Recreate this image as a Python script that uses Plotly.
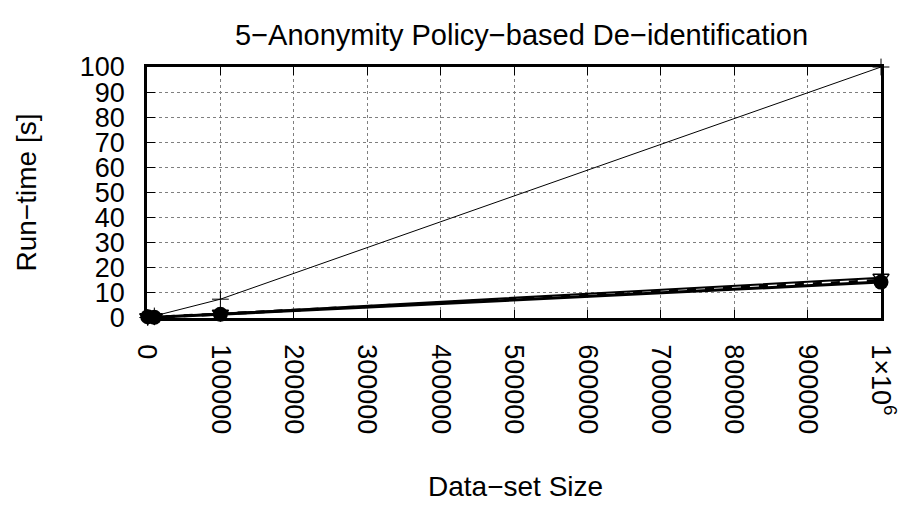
import plotly.graph_objects as go

# Data-set sizes (records) and measured run-times in seconds
sizes = [1000, 10000, 100000, 1000000]
runtime_plus = [0.2, 0.8, 7.5, 100.0]
runtime_circle = [0.5, 0.3, 1.5, 14.3]
runtime_triangle = [0.3, 0.3, 1.7, 16.0]
runtime_dash = [0.3, 0.3, 1.6, 15.0]

x_tickvals = [0, 100000, 200000, 300000, 400000, 500000, 600000, 700000, 800000, 900000, 1000000]
x_ticktext = ["0", "100000", "200000", "300000", "400000", "500000", "600000",
              "700000", "800000", "900000", "1×10<sup>6</sup>"]
y_tickvals = [0, 10, 20, 30, 40, 50, 60, 70, 80, 90, 100]

FONT = "Liberation Sans, Arial, Helvetica, sans-serif"
FS = 27
FS_TITLE = 29
FS_AXIS = 28

fig = go.Figure()

fig.add_trace(go.Scatter(
    x=sizes, y=runtime_dash, mode="lines",
    line=dict(color="black", width=3, dash="dash"),
    cliponaxis=False, showlegend=False))
fig.add_trace(go.Scatter(
    x=sizes, y=runtime_triangle, mode="lines+markers",
    line=dict(color="black", width=2),
    marker=dict(symbol="triangle-down-open", size=14, color="black", line=dict(width=1.5)),
    cliponaxis=False, showlegend=False))
fig.add_trace(go.Scatter(
    x=sizes, y=runtime_circle, mode="lines+markers",
    line=dict(color="black", width=3),
    marker=dict(symbol="circle", size=15, color="black"),
    cliponaxis=False, showlegend=False))
fig.add_trace(go.Scatter(
    x=sizes, y=runtime_plus, mode="lines+markers",
    line=dict(color="black", width=1),
    marker=dict(symbol="cross-thin-open", size=12, color="black", line=dict(width=1, color="black")),
    cliponaxis=False, showlegend=False))

axis_common = dict(
    showline=True, linecolor="black", linewidth=2.5, mirror="ticks",
    ticks="inside", ticklen=8, tickwidth=1, tickcolor="black",
    showgrid=True, gridcolor="#7f7f7f", gridwidth=1, griddash="dot",
    zeroline=False, ticklabeloverflow="allow", automargin=False,
    tickfont=dict(family=FONT, size=FS, color="black"),
)

fig.update_layout(
    width=900, height=506,
    margin=dict(l=147, r=19, t=67, b=188),
    paper_bgcolor="white", plot_bgcolor="white",
    font=dict(family=FONT, size=FS, color="black"),
    xaxis=dict(range=[0, 1000000], tickmode="array", tickvals=x_tickvals,
               ticktext=x_ticktext, tickangle=90, ticklabelstandoff=18,
               **axis_common),
    yaxis=dict(range=[0, 100], tickmode="array", tickvals=y_tickvals,
               ticklabelstandoff=14, **axis_common),
    annotations=[
        dict(text="5−Anonymity Policy−based De−identification",
             xref="paper", yref="paper", x=(521 - 147) / 734, y=1 + 32 / 251,
             xanchor="center", yanchor="middle", showarrow=False,
             font=dict(family=FONT, size=FS_TITLE, color="black")),
        dict(text="Run−time [s]", xref="paper", yref="paper",
             x=-121 / 734, y=0.5, textangle=-90,
             xanchor="center", yanchor="middle", showarrow=False,
             font=dict(family=FONT, size=FS_AXIS, color="black")),
        dict(text="Data−set Size", xref="paper", yref="paper",
             x=(515 - 147) / 734, y=-186 / 251,
             xanchor="center", yanchor="bottom", showarrow=False,
             font=dict(family=FONT, size=FS_AXIS, color="black")),
    ],
)

fig.write_html("out.html")
